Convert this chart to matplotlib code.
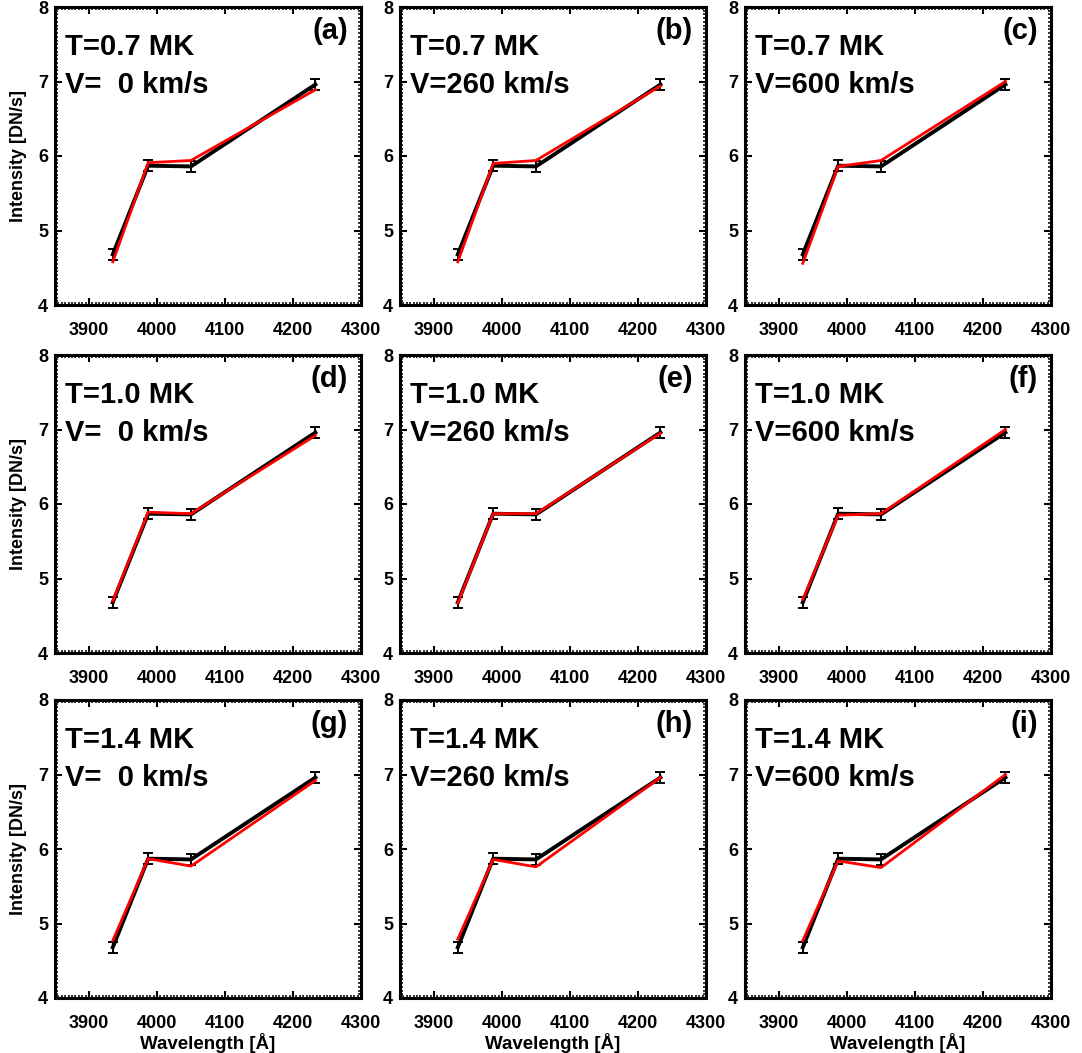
import matplotlib
matplotlib.use("Agg")
import matplotlib.pyplot as plt
from matplotlib.ticker import MultipleLocator

plt.rcParams['font.family'] = ['Liberation Sans', 'DejaVu Sans']
plt.rcParams['font.weight'] = 'bold'

# ---- data ----
wavelength = [3935, 3987, 4050, 4233]
observed = [4.68, 5.87, 5.86, 6.96]
observed_err = [0.07, 0.07, 0.07, 0.08]

temps = ["0.7", "1.0", "1.4"]
speeds = ["0", "260", "600"]
panel_labels = ["(a)", "(b)", "(c)", "(d)", "(e)", "(f)", "(g)", "(h)", "(i)"]

model_a = [4.58, 5.91, 5.94, 6.89]
model_b = [4.58, 5.90, 5.94, 6.94]
model_c = [4.56, 5.86, 5.94, 7.00]
model_d = [4.70, 5.89, 5.87, 6.92]
model_e = [4.67, 5.87, 5.87, 6.95]
model_f = [4.72, 5.85, 5.87, 7.00]
model_g = [4.77, 5.87, 5.77, 6.92]
model_h = [4.79, 5.86, 5.76, 6.96]
model_i = [4.77, 5.84, 5.75, 7.00]
models = [model_a, model_b, model_c, model_d, model_e, model_f, model_g, model_h, model_i]

x_ticks = [3900, 4000, 4100, 4200, 4300]
y_ticks = [4, 5, 6, 7, 8]

# ---- layout ----
W, H = 1082, 1053
fig = plt.figure(figsize=(W / 100, H / 100), dpi=100)
col_left = [55, 400, 745]
row_top = [7, 355, 700]
aw, ah = 306, 298

for r in range(3):
    for c in range(3):
        k = r * 3 + c
        ax = fig.add_axes([col_left[c] / W, 1 - (row_top[r] + ah) / H, aw / W, ah / H])
        ax.plot(wavelength, observed, color='black', lw=2.8, zorder=2)
        ax.errorbar(wavelength, observed, yerr=observed_err, fmt='none', ecolor='black',
                    elinewidth=1.4, capsize=3.8, capthick=1.4, zorder=3)
        ax.plot(wavelength, models[k], color='red', lw=2.0, zorder=4)

        ax.set_xlim(3850, 4300)
        ax.set_ylim(4, 8)
        ax.set_xticks(x_ticks)
        ax.set_yticks(y_ticks)
        ax.xaxis.set_minor_locator(MultipleLocator(5))
        ax.yaxis.set_minor_locator(MultipleLocator(0.05))
        ax.tick_params(which='major', direction='in', length=5, width=1.5,
                       top=True, right=True, labelsize=13)
        ax.tick_params(axis='x', which='major', pad=12)
        ax.tick_params(axis='y', which='major', pad=5)
        ax.tick_params(which='minor', direction='in', length=2.2, width=1.1,
                       top=True, right=True)
        for lab in ax.get_xticklabels() + ax.get_yticklabels():
            lab.set_fontweight('bold')
        for s in ax.spines.values():
            s.set_linewidth(2.2)

        ax.text(0.033, 0.839, f"T={temps[r]} MK", transform=ax.transAxes,
                fontsize=21, fontweight='bold', va='baseline', ha='left')
        vtxt = f"V={speeds[c]:>3} km/s" if speeds[c] != "0" else "V=  0 km/s"
        ax.text(0.033, 0.711, vtxt, transform=ax.transAxes,
                fontsize=21, fontweight='bold', va='baseline', ha='left')
        ax.text(0.957, 0.893, panel_labels[k], transform=ax.transAxes,
                fontsize=21, fontweight='bold', va='baseline', ha='right')

        if c == 0:
            ax.set_ylabel("Intensity [DN/s]", fontsize=13, fontweight='bold', labelpad=8)
        if r == 2:
            ax.set_xlabel("Wavelength [Å]", fontsize=13.5, fontweight='bold', labelpad=1)

fig.savefig("out.png", dpi=100)
